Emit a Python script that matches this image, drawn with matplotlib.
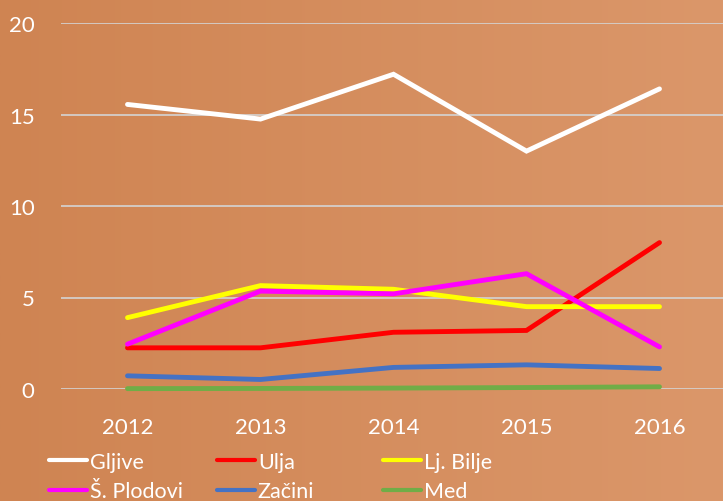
import numpy as np
import matplotlib
matplotlib.use('Agg')
import matplotlib.pyplot as plt
from matplotlib.colors import LinearSegmentedColormap
from matplotlib.lines import Line2D

plt.rcParams['font.family'] = ['Lato', 'DejaVu Sans']

years = ['2012', '2013', '2014', '2015', '2016']
gljive = [15.55, 14.75, 17.2, 13.0, 16.4]
ulja = [2.25, 2.25, 3.1, 3.2, 8.0]
lj_bilje = [3.9, 5.65, 5.45, 4.5, 4.5]
s_plodovi = [2.45, 5.35, 5.2, 6.3, 2.3]
zacini = [0.72, 0.52, 1.18, 1.32, 1.12]
med = [0.02, 0.03, 0.05, 0.08, 0.12]

names = ['Gljive', 'Ulja', 'Lj. Bilje', 'Š. Plodovi', 'Začini', 'Med']
series = [gljive, ulja, lj_bilje, s_plodovi, zacini, med]
colors = ['#FFFFFF', '#FF0000', '#FFFF00', '#FF00FF', '#4472C4', '#70AD47']

fig = plt.figure(figsize=(7.23, 5.02), dpi=100)

# background gradient
bg = fig.add_axes([0, 0, 1, 1], zorder=-10)
cmap = LinearSegmentedColormap.from_list('bg', ['#CF8452', '#DB976A'])
bg.imshow(np.linspace(0, 1, 256).reshape(1, -1), aspect='auto', cmap=cmap,
          extent=[0, 1, 0, 1])
bg.axis('off')

ax = fig.add_axes([61 / 723, 112 / 502, 665 / 723, 366 / 502])
ax.patch.set_alpha(0)
x = np.arange(len(years))
for name, vals, c in zip(names, series, colors):
    ax.plot(x, vals, color=c, lw=3.5, solid_capstyle='round',
            solid_joinstyle='miter', clip_on=False, label=name)

ax.set_xlim(-0.5, 4.5)
ax.set_ylim(0, 20)
ax.set_yticks([0, 5, 10, 15, 20])
ax.set_xticks(x)
ax.set_xticklabels(years)
ax.yaxis.grid(True, color='#D4D4D4', lw=1.2)
ax.set_axisbelow(True)
for s in ax.spines.values():
    s.set_visible(False)
ax.tick_params(axis='both', length=0, colors='white', labelsize=16)
ax.tick_params(axis='x', pad=20)
ax.tick_params(axis='y', pad=19)

# legend in three columns
col_x = [49 / 723, 217 / 723, 383 / 723]
for i, cx in enumerate(col_x):
    hs = [Line2D([], [], color=colors[i], lw=3, solid_capstyle='round'),
          Line2D([], [], color=colors[i + 3], lw=3, solid_capstyle='round')]
    fig.legend(hs, [names[i], names[i + 3]], loc='upper left',
               bbox_to_anchor=(cx, 49 / 502), frameon=False, fontsize=15.5,
               labelcolor='white', handlelength=1.75, handletextpad=0.15,
               labelspacing=0.42, borderpad=0, borderaxespad=0)

fig.savefig('out.png', dpi=100)
